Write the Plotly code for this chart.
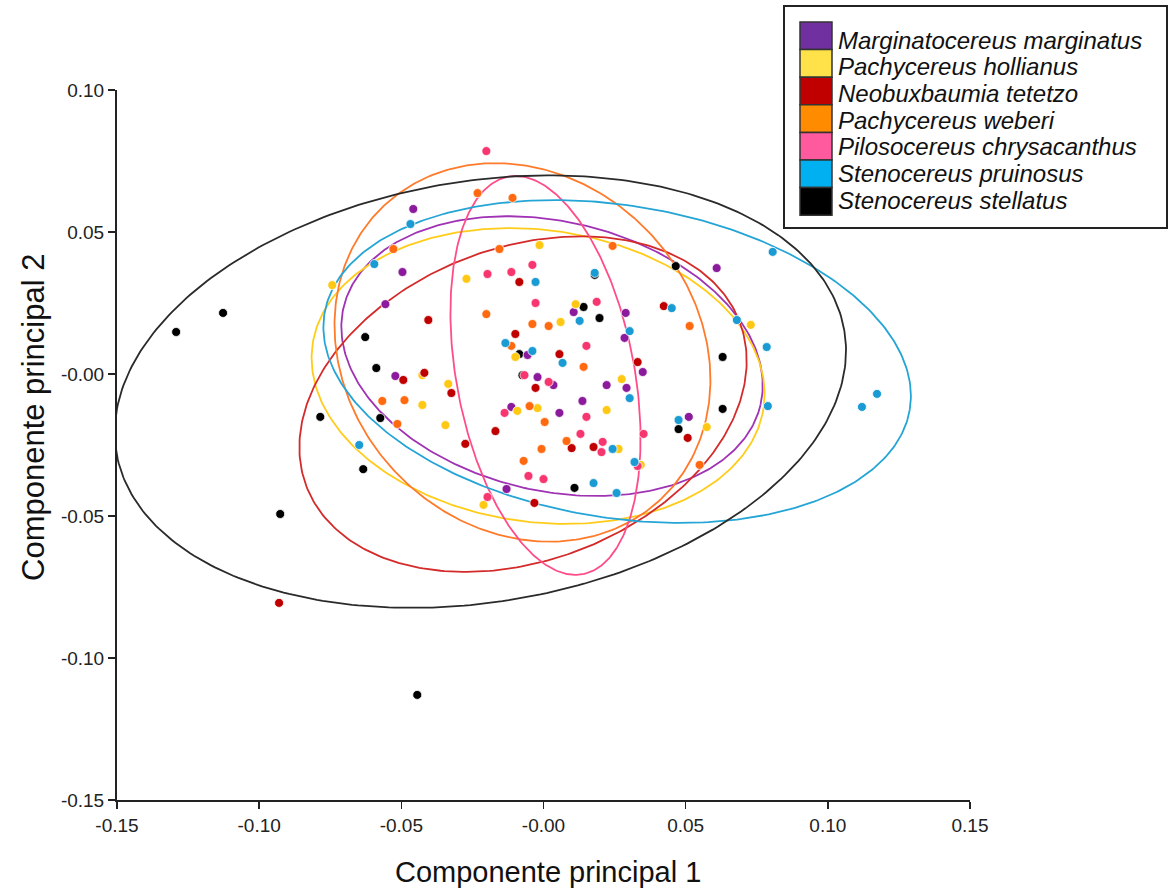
import numpy as np
import plotly.graph_objects as go

# ---------------- data ----------------
species = ["Marginatocereus marginatus", "Pachycereus hollianus", "Neobuxbaumia tetetzo",
           "Pachycereus weberi", "Pilosocereus chrysacanthus", "Stenocereus pruinosus",
           "Stenocereus stellatus"]

marg_x = [-0.0458, -0.0496, -0.0556, 0.0609, -0.0521, -0.0056, -0.0113, 0.0106, 0.0289, 0.0285,
          0.0349, -0.0021, 0.0035, 0.0222, 0.0292, 0.0137, 0.0056, 0.0511, -0.0130]
marg_y = [0.0581, 0.0359, 0.0246, 0.0373, -0.0007, 0.0067, -0.0116, 0.0218, 0.0215, 0.0127,
          0.0007, -0.0011, -0.0039, -0.0039, -0.0049, -0.0095, -0.0137, -0.0151, -0.0405]

holl_x = [-0.0743, -0.0271, -0.0014, 0.0113, 0.0060, -0.0099, -0.0426, -0.0335, -0.0426, -0.0345,
          -0.0092, -0.0021, 0.0275, 0.0222, 0.0264, 0.0342, 0.0574, 0.0729, -0.0211]
holl_y = [0.0313, 0.0335, 0.0454, 0.0246, 0.0183, 0.0060, -0.0004, -0.0035, -0.0109, -0.0180,
          -0.0130, -0.0120, -0.0018, -0.0127, -0.0264, -0.0320, -0.0187, 0.0173, -0.0461]

tete_x = [-0.0405, -0.0085, -0.0099, -0.0493, -0.0419, -0.0324, 0.0056, 0.0331, 0.0423, -0.0028,
          -0.0275, -0.0169, 0.0099, 0.0176, 0.0507, -0.0032, -0.0930]
tete_y = [0.0190, 0.0324, 0.0141, -0.0021, 0.0004, -0.0067, 0.0070, 0.0042, 0.0239, -0.0049,
          -0.0246, -0.0201, -0.0261, -0.0257, -0.0225, -0.0454, -0.0806]

webe_x = [-0.0232, -0.0109, -0.0528, -0.0155, 0.0243, -0.0201, -0.0039, 0.0018, 0.0514, -0.0113,
          -0.0567, -0.0489, -0.0514, 0.0141, -0.0049, 0.0004, 0.0081, -0.0007, -0.0070, 0.0549]
webe_y = [0.0637, 0.0620, 0.0440, 0.0440, 0.0451, 0.0211, 0.0176, 0.0169, 0.0169, 0.0099,
          -0.0095, -0.0092, -0.0176, 0.0025, -0.0113, -0.0169, -0.0236, -0.0264, -0.0306, -0.0320]

chry_x = [-0.0201, -0.0197, -0.0113, -0.0039, -0.0028, 0.0187, 0.0151, -0.0067, 0.0018, -0.0137,
          0.0151, 0.0130, 0.0352, 0.0208, 0.0204, 0.0331, -0.0053, 0.0000, -0.0197]
chry_y = [0.0785, 0.0352, 0.0359, 0.0384, 0.0250, 0.0254, 0.0099, -0.0004, -0.0028, -0.0137,
          -0.0151, -0.0211, -0.0211, -0.0239, -0.0275, -0.0324, -0.0359, -0.0370, -0.0433]

prui_x = [-0.0468, -0.0595, 0.0180, -0.0028, 0.0127, 0.0451, 0.0303, -0.0134, -0.0039, 0.0067,
          0.0303, 0.0475, 0.0243, 0.0320, 0.0176, 0.0257, -0.0648, 0.0806, 0.0680, 0.0785,
          0.0789, 0.1120, 0.1173]
prui_y = [0.0528, 0.0387, 0.0356, 0.0324, 0.0187, 0.0232, 0.0151, 0.0109, 0.0081, 0.0039,
          -0.0085, -0.0162, -0.0264, -0.0310, -0.0384, -0.0419, -0.0250, 0.0430, 0.0190, 0.0095,
          -0.0113, -0.0116, -0.0070]

stel_x = [-0.1292, -0.1127, -0.0627, -0.0588, -0.0785, -0.0574, -0.0634, -0.0926, -0.0444, -0.0085,
          -0.0074, 0.0141, 0.0197, 0.0180, 0.0465, 0.0630, 0.0630, 0.0475, 0.0109]
stel_y = [0.0148, 0.0215, 0.0130, 0.0021, -0.0151, -0.0155, -0.0335, -0.0493, -0.1130, 0.0070,
          -0.0004, 0.0236, 0.0197, 0.0349, 0.0380, 0.0060, -0.0123, -0.0194, -0.0401]

# ellipse parameters (centre, semi-axes, rotation in degrees)
ell_cx = [0.0030, -0.0019, -0.0072, -0.0074, 0.0007, 0.0259, -0.0222]
ell_cy = [0.0063, -0.0007, -0.0106, 0.0076, -0.0005, 0.0044, -0.0062]
ell_a = [0.0753, 0.0801, 0.0815, 0.0710, 0.0712, 0.1043, 0.1298]
ell_b = [0.0474, 0.0514, 0.0551, 0.0614, 0.0313, 0.0550, 0.0741]
ell_ang = [-13.2, -7.8, 20.8, -46.6, 100.6, -9.3, 9.5]

tick_vals_x = [-0.15, -0.10, -0.05, 0.0, 0.05, 0.10, 0.15]
tick_text_x = ["-0.15", "-0.10", "-0.05", "-0.00", "0.05", "0.10", "0.15"]
tick_vals_y = [-0.15, -0.10, -0.05, 0.0, 0.05, 0.10]
tick_text_y = ["-0.15", "-0.10", "-0.05", "-0.00", "0.05", "0.10"]

# ---------------- styles ----------------
xs = [marg_x, holl_x, tete_x, webe_x, chry_x, prui_x, stel_x]
ys = [marg_y, holl_y, tete_y, webe_y, chry_y, prui_y, stel_y]
point_colors = ["#8c1a9c", "#ffc814", "#c00000", "#ff6a10", "#f7356f", "#1b9bd3", "#000000"]
line_colors = ["#a032b4", "#ffcc1a", "#d42a2a", "#ff7a2a", "#ff4d88", "#25a5d5", "#2a2a2a"]
swatch_colors = ["#7030a0", "#ffe24a", "#c00000", "#ff8c00", "#ff5a9e", "#00b0f0", "#000000"]

FONT = "Liberation Sans, Arial, sans-serif"

fig = go.Figure()

t = np.linspace(0, 2 * np.pi, 361)
for i in range(len(species)):
    th = np.deg2rad(ell_ang[i])
    ex = ell_cx[i] + ell_a[i] * np.cos(th) * np.cos(t) - ell_b[i] * np.sin(th) * np.sin(t)
    ey = ell_cy[i] + ell_a[i] * np.sin(th) * np.cos(t) + ell_b[i] * np.cos(th) * np.sin(t)
    fig.add_trace(go.Scatter(x=ex, y=ey, mode="lines", line=dict(color=line_colors[i], width=1.8),
                             showlegend=False, hoverinfo="skip"))

order = [6, 0, 1, 2, 3, 4, 5]
for i in order:
    fig.add_trace(go.Scatter(x=xs[i], y=ys[i], mode="markers", name=species[i],
                             marker=dict(color=point_colors[i], size=9,
                                         line=dict(color="white", width=0.8)),
                             showlegend=False, cliponaxis=False))

# ---------------- layout ----------------
L, R, T, B = 117, 970, 90, 800
W, H = 1170, 890


def px(xp):
    return (xp - L) / (R - L)


def py(yp):
    return (B - yp) / (B - T)


shapes = []
annotations = []

# legend box
shapes.append(dict(type="rect", xref="paper", yref="paper", x0=px(784), x1=px(1167), y0=py(6), y1=py(228),
                   line=dict(color="#222222", width=2), fillcolor="white", layer="above"))
row_h = 27.6
for i, name in enumerate(species):
    y0 = 22 + row_h * i
    shapes.append(dict(type="rect", xref="paper", yref="paper", x0=px(800), x1=px(832),
                       y0=py(y0), y1=py(y0 + row_h), line=dict(color="#333333", width=1.5),
                       fillcolor=swatch_colors[i], layer="above"))
    annotations.append(dict(x=px(836), y=py(40 + 26.7 * i), xref="paper", yref="paper",
                            text="<i>" + name + "</i>", showarrow=False, xanchor="left", yanchor="middle",
                            font=dict(family=FONT, size=24, color="#111111")))

# axis titles
annotations.append(dict(x=px(548), y=py(872), xref="paper", yref="paper", text="Componente principal 1",
                        showarrow=False, xanchor="center", yanchor="middle",
                        font=dict(family=FONT, size=29, color="#111111")))
annotations.append(dict(x=px(33), y=py(418), xref="paper", yref="paper", text="Componente principal 2",
                        showarrow=False, xanchor="center", yanchor="middle", textangle=-90,
                        font=dict(family=FONT, size=31, color="#111111")))

fig.update_layout(
    width=W, height=H,
    margin=dict(l=L, r=W - R, t=T, b=H - B),
    paper_bgcolor="white", plot_bgcolor="white",
    showlegend=False,
    shapes=shapes, annotations=annotations,
    xaxis=dict(range=[-0.15, 0.15], tickvals=tick_vals_x, ticktext=tick_text_x,
               showgrid=False, zeroline=False, showline=True, linecolor="#222222", linewidth=2,
               ticks="outside", ticklen=7, tickwidth=1.5, tickcolor="#222222",
               tickfont=dict(family=FONT, size=19, color="#222222")),
    yaxis=dict(range=[-0.15, 0.10], tickvals=tick_vals_y, ticktext=tick_text_y,
               showgrid=False, zeroline=False, showline=True, linecolor="#222222", linewidth=2,
               ticks="outside", ticklen=7, tickwidth=1.5, tickcolor="#222222",
               tickfont=dict(family=FONT, size=19, color="#222222")),
)

fig.write_html("out.html", config={"displayModeBar": False, "staticPlot": True})

# remove the browser's default page margin so the figure sits at the window's top-left corner
with open("out.html", "r", encoding="utf-8") as f:
    html = f.read()
html = html.replace("<head>", "<head><style>html,body{margin:0;padding:0;overflow:hidden;}</style>", 1)
with open("out.html", "w", encoding="utf-8") as f:
    f.write(html)
